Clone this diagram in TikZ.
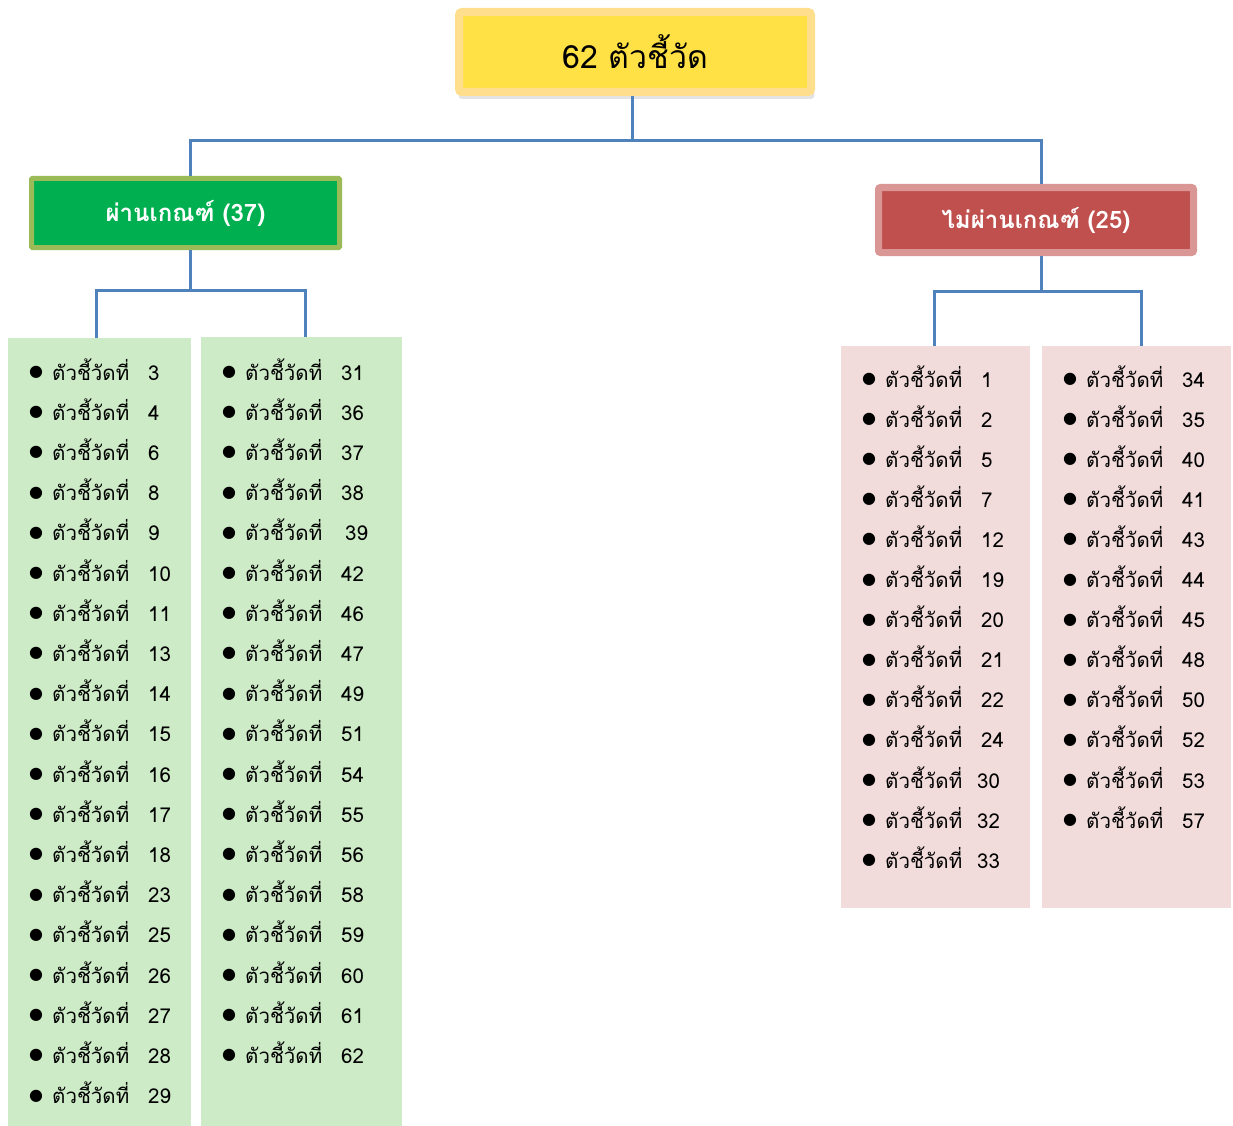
\documentclass[tikz,border=0pt]{standalone}
\usepackage{fontspec}
\setmainfont[Script=Thai]{Loma}
\newfontfamily\symfont{DejaVu Sans}
\usetikzlibrary{shadows}
\definecolor{yfill}{HTML}{FFE145}
\definecolor{yborder}{HTML}{FFDF8E}
\definecolor{gfill}{HTML}{00B050}
\definecolor{gborder}{HTML}{9BBB59}
\definecolor{rfill}{HTML}{C0504D}
\definecolor{rborder}{HTML}{DA9694}
\definecolor{gpanel}{HTML}{CDEBC6}
\definecolor{rpanel}{HTML}{F2DCDB}
\definecolor{lineblue}{HTML}{4F81BD}
\newcommand{\itm}[1]{\makebox[23pt][l]{\raisebox{3.5pt}{\symfont\fontsize{16}{16}\selectfont ●}}\makebox[96pt][l]{ตัวชี้วัดที่}#1}
\begin{document}
\begin{tikzpicture}[x=1pt,y=-1pt,
  item/.style={anchor=base west, inner sep=0pt, font=\fontsize{20.5}{20.5}\selectfont},
  conn/.style={draw=lineblue, line width=3pt},
  panel/.style={inner sep=0pt, anchor=north west},
  titlebox/.style={inner sep=0pt}]
\useasboundingbox (0,0) rectangle (1233,1126);
% panels
\node[panel, fill=gpanel, minimum width=183pt, minimum height=788pt] (gl) at (8,338) {};
\node[panel, fill=gpanel, minimum width=201pt, minimum height=789pt] (gr) at (201,337) {};
\node[panel, fill=rpanel, minimum width=189pt, minimum height=562pt] (rl) at (841,346) {};
\node[panel, fill=rpanel, minimum width=189pt, minimum height=562pt] (rr) at (1042,346) {};
% connectors (drawn first so boxes sit on top)
\coordinate (b0) at (632,141);
\coordinate (g0) at (190,290);
\coordinate (r0) at (1041,291);
% title boxes
\node[titlebox, fill=yfill, draw=yborder, line width=8pt, rounded corners=3pt,
  minimum width=352pt, minimum height=80pt,
  drop shadow={opacity=0.22, shadow xshift=1.5pt, shadow yshift=-6.5pt, shadow scale=1.01},
  font=\fontsize{32}{32}\selectfont] (top) at (635,52) {62 ตัวชี้วัด};
\node[titlebox, fill=gfill, draw=gborder, line width=5pt, rounded corners=1pt,
  minimum width=308pt, minimum height=69pt, text=white,
  font=\bfseries\fontsize{24}{24}\selectfont] (pass) at (185.5,213) {ผ่านเกณฑ์ (37)};
\node[titlebox, fill=rfill, draw=rborder, line width=7pt, rounded corners=2pt,
  minimum width=315pt, minimum height=65pt, text=white,
  font=\bfseries\fontsize{24}{24}\selectfont] (fail) at (1036,220) {ไม่ผ่านเกณฑ์ (25)};
\draw[conn] (top.south -| b0) -- (b0);
\draw[conn] (pass.north -| 190,0) |- (b0) -| (fail.north -| 1041,0);
\draw[conn] (pass.south -| g0) -- (g0);
\draw[conn] (gl.north -| 96,0) |- (g0) -| (gr.north -| 305,0);
\draw[conn] (fail.south -| r0) -- (r0);
\draw[conn] (rl.north -| 934,0) |- (r0) -| (rr.north -| 1141,0);
% items
\foreach \n [count=\i] in {3,4,6,8,9,10,11,13,14,15,16,17,18,23,25,26,27,28,29}
  \node[item] (ga\i) at (29,{380+40.2*(\i-1)}) {\itm{\n}};
\foreach \n [count=\i] in {31,36,37,38,\hspace{4pt}39,42,46,47,49,51,54,55,56,58,59,60,61,62}
  \node[item] (gb\i) at (222,{380+40.2*(\i-1)}) {\itm{\n}};
\foreach \n [count=\i] in {1,2,5,7,12,19,20,21,22,24,\hspace{-4pt}30,\hspace{-4pt}32,\hspace{-4pt}33}
  \node[item] (ra\i) at (863,{387+40.1*(\i-1)}) {\hspace{-1pt}\itm{\n}};
\foreach \n [count=\i] in {34,35,40,41,43,44,45,48,50,52,53,57}
  \node[item] (rb\i) at (1063,{387+40.1*(\i-1)}) {\itm{\n}};
\end{tikzpicture}
\end{document}
